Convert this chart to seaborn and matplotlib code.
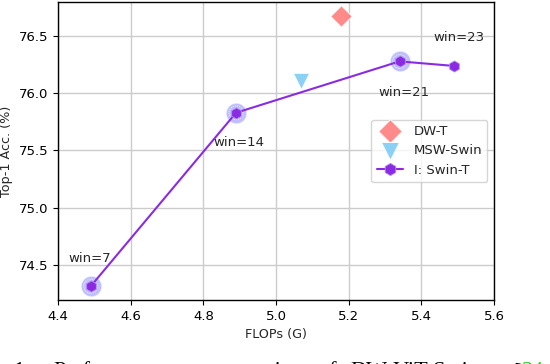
import matplotlib
matplotlib.use("Agg")
import pandas as pd
import seaborn as sns
import matplotlib.pyplot as plt

# I: Swin-T with different window sizes
swin_flops = [4.49, 4.89, 5.34, 5.49]
swin_acc = [74.31, 75.83, 76.28, 76.24]
swin_labels = ["win=7", "win=14", "win=21", "win=23"]
halo_idx = [0, 1, 2]

dwt_flops = [5.18]
dwt_acc = [76.68]

msw_flops = [5.07]
msw_acc = [76.11]

caption_words = ["1:", "Performance", "comparison", "of", "DW-ViT-Swin", "[", "34"]


def main():
    sns.set_style("ticks")
    plt.rcParams['font.family'] = ['DejaVu Sans']
    plt.rcParams['font.size'] = 9.5

    fig = plt.figure(figsize=(5.5, 3.64), dpi=100)
    ax = fig.add_axes([58 / 550, 1 - 300 / 364, 436 / 550, 298 / 364])

    swin = pd.DataFrame({"flops": swin_flops, "acc": swin_acc})
    halo = swin.iloc[halo_idx]

    # halo rings behind selected points
    sns.scatterplot(ax=ax, data=halo, x="flops", y="acc", s=220, marker="o",
                    color="#8c8cff", alpha=0.55, edgecolor="white",
                    linewidth=0.8, zorder=3, legend=False)
    ax.scatter(halo["flops"], halo["acc"], s=100, marker="o", facecolors="none",
               edgecolors="white", linewidths=0.6, linestyle=":", zorder=3)

    sns.scatterplot(ax=ax, x=dwt_flops, y=dwt_acc, marker="D", s=120,
                    color="#ff7676", alpha=0.85, edgecolor="white",
                    linewidth=0.8, label="DW-T", zorder=4)
    sns.scatterplot(ax=ax, x=msw_flops, y=msw_acc, marker="v", s=140,
                    color="#7fcbf7", alpha=0.9, edgecolor="white",
                    linewidth=0.8, label="MSW-Swin", zorder=4)
    sns.lineplot(ax=ax, data=swin, x="flops", y="acc", color="#8a2be2",
                 linewidth=1.5, marker="h", markersize=8,
                 markerfacecolor="#8a2be2", markeredgecolor="#b48cf0",
                 markeredgewidth=0.6, label="I: Swin-T", zorder=5)

    offsets = [(-0.062, 0.242), (-0.061, -0.263), (-0.059, -0.269), (-0.058, 0.245)]
    for fx, acc, lab, (dx, dy) in zip(swin_flops, swin_acc, swin_labels, offsets):
        ax.text(fx + dx, acc + dy, lab, ha="left", va="center", fontsize=9.5, zorder=6)

    ax.set_xlim(4.4, 5.6)
    ax.set_ylim(74.19, 76.80)
    ax.set_xticks([4.4, 4.6, 4.8, 5.0, 5.2, 5.4, 5.6])
    ax.set_yticks([74.5, 75.0, 75.5, 76.0, 76.5])
    ax.grid(True, color="#cccccc", linewidth=1.0)
    ax.set_axisbelow(True)
    ax.set_xlabel("FLOPs (G)", fontsize=9.2)
    ax.set_ylabel("Top-1 Acc. (%)", fontsize=9.2)
    for sp in ax.spines.values():
        sp.set_color("black")
        sp.set_linewidth(1.0)
    ax.tick_params(colors="black", direction="out", length=3.5, labelsize=9.5)

    ax.legend(loc="center right", fontsize=9.5, frameon=True, framealpha=0.8,
              borderaxespad=0.5, markerscale=1.1)

    # caption of the paper, cut off at the bottom of the image
    xs = [13, 53, 208, 318, 350, 513, 522]
    for word, xp in zip(caption_words, xs):
        col = "#22cc22" if word == "34" else "black"
        fig.text(xp / 550, -0.034, word, fontsize=16, family="Liberation Serif",
                 color=col, va="baseline", ha="left")

    fig.savefig("out.png", dpi=100)


if __name__ == "__main__":
    main()
